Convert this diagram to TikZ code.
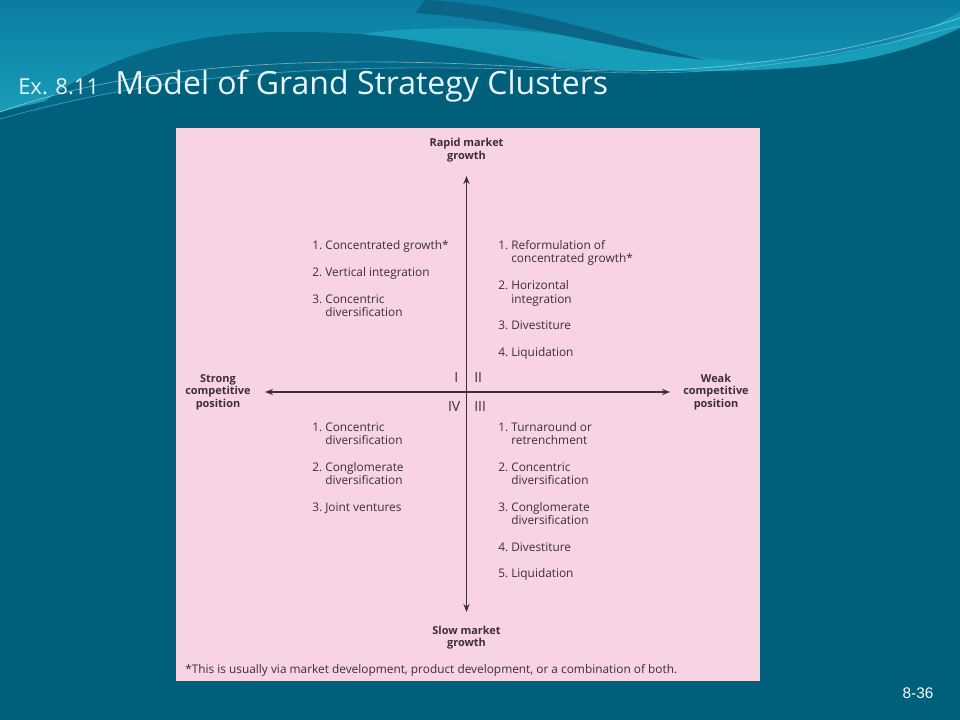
\documentclass[tikz,border=0pt]{standalone}
\usepackage{fontspec}
\setmainfont{Open Sans}
\newfontfamily\titlefont{Open Sans}
\newfontfamily\pagefont{Liberation Sans}
\usetikzlibrary{arrows.meta}
\definecolor{bgteal}{HTML}{005F7A}
\definecolor{pinkbg}{HTML}{F8D3E4}
\definecolor{ink}{HTML}{3D2E36}
\definecolor{skyL}{HTML}{1A9DB8}
\definecolor{skyR}{HTML}{0A7CA3}
\definecolor{bandcyan}{HTML}{18A0BC}
\definecolor{stripe}{HTML}{0A6586}
\definecolor{dome}{HTML}{056886}
\definecolor{titlewhite}{HTML}{E6F6FA}
\begin{document}
\begin{tikzpicture}[x=0.75pt,y=-0.75pt,
  itemtext/.style={font=\fontsize{8.9}{9.75}\selectfont, text=ink, anchor=base west, inner sep=0pt},
  axislabel/.style={font=\fontsize{8.2}{9.6}\selectfont\bfseries, text=ink, anchor=base, inner sep=0pt},
  quadnum/.style={font=\fontsize{10.5}{11}\selectfont, text=ink, inner sep=0pt},
  axisarrow/.style={draw=ink, line width=1.1pt, -{Stealth[length=6pt,width=4.6pt]}},
]
\useasboundingbox (0,0) rectangle (960,720);
% background
\fill[bgteal] (0,0) rectangle (960,720);
\shade[top color=skyR, bottom color=skyL]
  (0,0) -- (960,0) -- (960,28) .. controls (930,42) and (890,56) .. (840,63)
  .. controls (760,74) and (640,72) .. (560,68) .. controls (400,64) and (150,72) .. (0,112) -- cycle;
\fill[dome] (30,114) .. controls (90,60) and (180,33) .. (280,32)
  .. controls (400,31) and (500,48) .. (600,68) .. controls (400,64) and (150,72) .. (30,114) -- cycle;
\fill[bandcyan, opacity=0.9] (360,34) .. controls (450,22) and (560,30) .. (640,48)
  .. controls (700,60) and (740,62) .. (780,61) .. controls (860,58) and (920,35) .. (960,12)
  -- (960,28) .. controls (930,42) and (890,56) .. (840,63)
  .. controls (760,74) and (640,72) .. (560,68) .. controls (500,56) and (430,40) .. (360,34) -- cycle;
\fill[stripe] (425,0) .. controls (520,4) and (610,36) .. (705,60)
  .. controls (610,50) and (520,20) .. (415,13) -- cycle;
\draw[white, opacity=0.45, line width=0.5pt] (0,112) .. controls (150,58) and (350,55) .. (560,69)
  .. controls (700,78) and (850,55) .. (960,18);
\draw[cyan!50!white, opacity=0.5, line width=0.5pt] (0,119) .. controls (200,62) and (400,64) .. (600,72)
  .. controls (760,79) and (880,45) .. (960,26);
% title
\node[anchor=base west, inner sep=0pt, text=titlewhite, font=\titlefont\fontsize{16.5}{18}\selectfont] (ex) at (18,94.5) {Ex. 8.11};
\node[anchor=base west, inner sep=0pt, text=titlewhite, font=\titlefont\fontsize{24}{27}\selectfont] (title) at (115,94.5) {Model of Grand Strategy Clusters};
% pink panel
\fill[pinkbg] (176,128) rectangle (760,681);
% axes
\coordinate (top) at (466.5,176);
\coordinate (bottom) at (466.5,612);
\coordinate (left) at (265,392);
\coordinate (right) at (670,392);
\coordinate (vmid) at (466.5,392);
\draw[axisarrow] (vmid) -- (top);
\draw[axisarrow] (vmid) -- (bottom);
\draw[axisarrow] (vmid) -- (left);
\draw[axisarrow] (vmid) -- (right);
% axis labels
\node[axislabel] (rapid) at (466.5,146.5) {\begin{tabular}[t]{@{}c@{}}Rapid market\\growth\end{tabular}};
\node[axislabel] (slow) at (466.5,634) {\begin{tabular}[t]{@{}c@{}}Slow market\\growth\end{tabular}};
\node[axislabel] (strong) at (218,382) {\begin{tabular}[t]{@{}c@{}}Strong\\competitive\\position\end{tabular}};
\node[axislabel] (weak) at (716,382) {\begin{tabular}[t]{@{}c@{}}Weak\\competitive\\position\end{tabular}};
% quadrant numerals
\node[quadnum, anchor=base east] (qI) at (458.5,382.5) {I};
\node[quadnum, anchor=base west] (qII) at (474,382.5) {II};
\node[quadnum, anchor=base east] (qIV) at (460.5,411) {IV};
\node[quadnum, anchor=base west] (qIII) at (474,411) {III};
% quadrant I
\node[itemtext] (a1) at (312,250) {\begin{tabular}[t]{@{}l@{\ }l@{}}1.&Concentrated growth*\end{tabular}};
\node[itemtext] (a2) at (312,276.7) {\begin{tabular}[t]{@{}l@{\ }l@{}}2.&Vertical integration\end{tabular}};
\node[itemtext] (a3) at (312,303.3) {\begin{tabular}[t]{@{}l@{\ }l@{}}3.&Concentric\\&diversification\end{tabular}};
% quadrant II
\node[itemtext] (b1) at (498,250) {\begin{tabular}[t]{@{}l@{\ }l@{}}1.&Reformulation of\\&concentrated growth*\end{tabular}};
\node[itemtext] (b2) at (498,290) {\begin{tabular}[t]{@{}l@{\ }l@{}}2.&Horizontal\\&integration\end{tabular}};
\node[itemtext] (b3) at (498,329.5) {\begin{tabular}[t]{@{}l@{\ }l@{}}3.&Divestiture\end{tabular}};
\node[itemtext] (b4) at (498,356) {\begin{tabular}[t]{@{}l@{\ }l@{}}4.&Liquidation\end{tabular}};
% quadrant IV
\node[itemtext] (c1) at (312,431.5) {\begin{tabular}[t]{@{}l@{\ }l@{}}1.&Concentric\\&diversification\end{tabular}};
\node[itemtext] (c2) at (312,471.5) {\begin{tabular}[t]{@{}l@{\ }l@{}}2.&Conglomerate\\&diversification\end{tabular}};
\node[itemtext] (c3) at (312,511) {\begin{tabular}[t]{@{}l@{\ }l@{}}3.&Joint ventures\end{tabular}};
% quadrant III
\node[itemtext] (d1) at (498,431.5) {\begin{tabular}[t]{@{}l@{\ }l@{}}1.&Turnaround or\\&retrenchment\end{tabular}};
\node[itemtext] (d2) at (498,471.5) {\begin{tabular}[t]{@{}l@{\ }l@{}}2.&Concentric\\&diversification\end{tabular}};
\node[itemtext] (d3) at (498,511.5) {\begin{tabular}[t]{@{}l@{\ }l@{}}3.&Conglomerate\\&diversification\end{tabular}};
\node[itemtext] (d4) at (498,551) {\begin{tabular}[t]{@{}l@{\ }l@{}}4.&Divestiture\end{tabular}};
\node[itemtext] (d5) at (498,577.5) {\begin{tabular}[t]{@{}l@{\ }l@{}}5.&Liquidation\end{tabular}};
% footnote
\node[itemtext] (foot) at (185,673) {*This is usually via market development, product development, or a combination of both.};
% page number
\node[anchor=base, inner sep=0pt, text=white, font=\pagefont\fontsize{11.5}{13}\selectfont] (page) at (918,698) {8-36};
\end{tikzpicture}
\end{document}
